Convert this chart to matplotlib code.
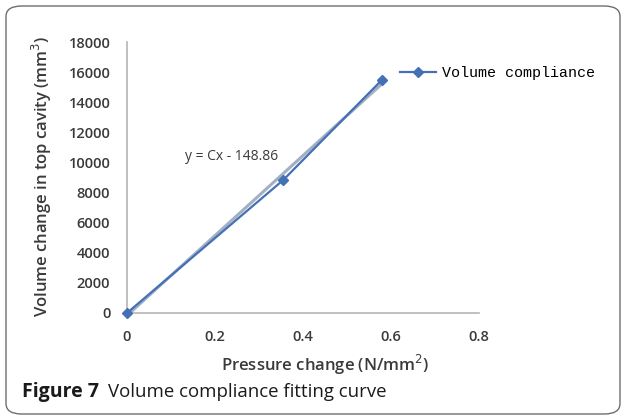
"""Volume compliance fitting curve: measured points with a linear fit."""

import matplotlib

matplotlib.use("Agg")
import matplotlib.pyplot as plt
import numpy as np
from matplotlib.patches import FancyBboxPatch

pressure_change = [0.0, 0.355, 0.58]
volume_change = [0.0, 8830.0, 15500.0]
x_ticks = [0, 0.2, 0.4, 0.6, 0.8]
x_tick_labels = ["0", "0.2", "0.4", "0.6", "0.8"]
y_ticks = [0, 2000, 4000, 6000, 8000, 10000, 12000, 14000, 16000, 18000]

DATA_COLOR = "#4470b5"
FIT_COLOR = "#a3b0c4"
AXIS_COLOR = "#b5b5b5"
TEXT_COLOR = "#3a3a3a"
LABEL_FONT = ["Open Sans", "DejaVu Sans"]

fig = plt.figure(figsize=(6.24, 4.2), dpi=100)

# rounded frame around the figure panel
frame = FancyBboxPatch(
    (6 / 624, 6 / 420), 614 / 624, 408 / 420,
    boxstyle="round,pad=0,rounding_size=0.025",
    transform=fig.transFigure, facecolor="none", edgecolor="#6e6e6e", linewidth=1.0,
)
fig.patches.append(frame)

ax = fig.add_axes([127 / 624, 1 - 313 / 420, 352 / 624, 271 / 420])

# linear least-squares trendline over the measured range
slope, intercept = np.polyfit(pressure_change, volume_change, 1)
fit_x = np.array([pressure_change[0], pressure_change[-1]])
ax.plot(fit_x, slope * fit_x + intercept, color=FIT_COLOR, linewidth=2.2, zorder=2, clip_on=False)

ax.plot(
    pressure_change, volume_change,
    color=DATA_COLOR, linewidth=1.6, marker="D", markersize=5,
    label="Volume compliance", zorder=3, clip_on=False,
)

ax.set_xlim(0, 0.8)
ax.set_ylim(0, 18000)
ax.set_xticks(x_ticks)
ax.set_xticklabels(x_tick_labels)
ax.set_yticks(y_ticks)

for side in ("top", "right"):
    ax.spines[side].set_visible(False)
for side in ("left", "bottom"):
    ax.spines[side].set_color(AXIS_COLOR)
    ax.spines[side].set_linewidth(1.2)

ax.tick_params(axis="both", length=0, labelsize=10.5, labelcolor=TEXT_COLOR)
ax.tick_params(axis="y", pad=12)
ax.tick_params(axis="x", pad=12)
for label in ax.get_xticklabels() + ax.get_yticklabels():
    label.set_family(LABEL_FONT)
    label.set_fontweight("semibold")

ax.set_xlabel("Pressure change (N/mm$^2$)", fontsize=12, color=TEXT_COLOR,
              family=LABEL_FONT, fontweight="semibold")
ax.xaxis.set_label_coords(325 / 624, 1 - 365 / 420, transform=fig.transFigure)
ax.xaxis.label.set_va("center")
ax.set_ylabel("Volume change in top cavity (mm$^3$)", fontsize=12, color=TEXT_COLOR,
              family=LABEL_FONT, fontweight="semibold")
ax.yaxis.set_label_coords(42 / 624, 1 - 176 / 420, transform=fig.transFigure)
ax.yaxis.label.set_va("center")

fig.text(232 / 624, 1 - 157 / 420, "y = Cx - 148.86", ha="center", va="center",
         fontsize=10, color=TEXT_COLOR, family=LABEL_FONT)

ax.legend(
    loc="center left", bbox_to_anchor=(400 / 624, 1 - 73 / 420),
    bbox_transform=fig.transFigure, frameon=False, borderpad=0, borderaxespad=0,
    handlelength=2.4, handletextpad=0.4,
    prop={"family": ["Liberation Mono", "DejaVu Sans Mono"], "size": 10.8},
)

fig.text(22 / 624, 1 - 392 / 420, "Figure 7", ha="left", va="center",
         fontsize=14, fontweight="bold", color="#1a1a1a", family=LABEL_FONT)
fig.text(108 / 624, 1 - 392 / 420, "Volume compliance fitting curve", ha="left", va="center",
         fontsize=13.4, color="#1a1a1a", family=LABEL_FONT)

fig.savefig("out.png", dpi=100)
